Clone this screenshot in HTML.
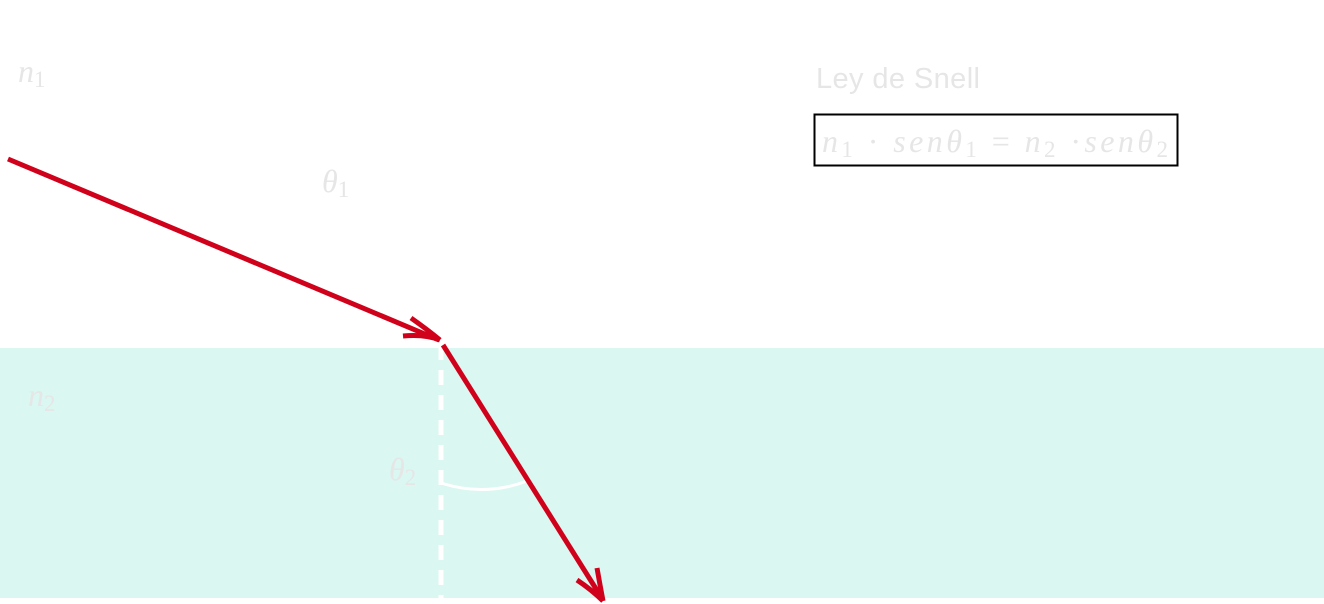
<!DOCTYPE html>
<html><head><meta charset="utf-8"><style>
html,body{margin:0;padding:0;background:#fff;width:1324px;height:604px;overflow:hidden}
svg{display:block}
.m{font-family:"Liberation Serif",serif;font-style:italic;fill:#e6e6e6}
</style></head><body>
<svg width="1324" height="604" viewBox="0 0 1324 604">
<rect x="0" y="348" width="1324" height="250" fill="#daf7f1"/>
<line x1="441" y1="345" x2="441" y2="598" stroke="#fff" stroke-width="5" stroke-dasharray="15,10"/>
<path d="M441,483 Q485,497 527,481" fill="none" stroke="#fff" stroke-width="3"/>
<g stroke="#d0021b" stroke-width="5" fill="none" stroke-linecap="butt">
<line x1="8" y1="159" x2="439" y2="340"/>
<path d="M403,336 Q425,334 440,340 M411,318 Q428,330 440,340"/>
<line x1="443" y1="345" x2="603" y2="600"/>
<path d="M577,580 Q592,590 603,601 M597,568 Q600,585 603,601"/>
</g>
<text x="18" y="82" class="m" font-size="32">n<tspan font-size="23" font-style="normal" dy="5">1</tspan></text>
<text x="28" y="406" class="m" font-size="32">n<tspan font-size="23" font-style="normal" dy="5">2</tspan></text>
<text x="322" y="192" class="m" font-size="32">θ<tspan font-size="23" font-style="normal" dy="5">1</tspan></text>
<text x="389" y="480" class="m" font-size="32">θ<tspan font-size="23" font-style="normal" dy="5">2</tspan></text>
<text x="816" y="88" font-family="Liberation Sans, sans-serif" font-size="29" fill="#e6e6e6" textLength="164">Ley de Snell</text>
<rect x="814.5" y="114.5" width="363" height="51" fill="none" stroke="#000" stroke-width="2"/>
<text x="822" y="152" class="m" font-size="32" textLength="346" lengthAdjust="spacing">n<tspan font-size="23" font-style="normal" dy="5">1</tspan><tspan dy="-5" font-style="normal">  ·  </tspan>senθ<tspan font-size="23" font-style="normal" dy="5">1</tspan><tspan dy="-5" font-style="normal"> =  </tspan>n<tspan font-size="23" font-style="normal" dy="5">2</tspan><tspan dy="-5" font-style="normal">  ·</tspan>senθ<tspan font-size="23" font-style="normal" dy="5">2</tspan></text>
</svg>
</body></html>
